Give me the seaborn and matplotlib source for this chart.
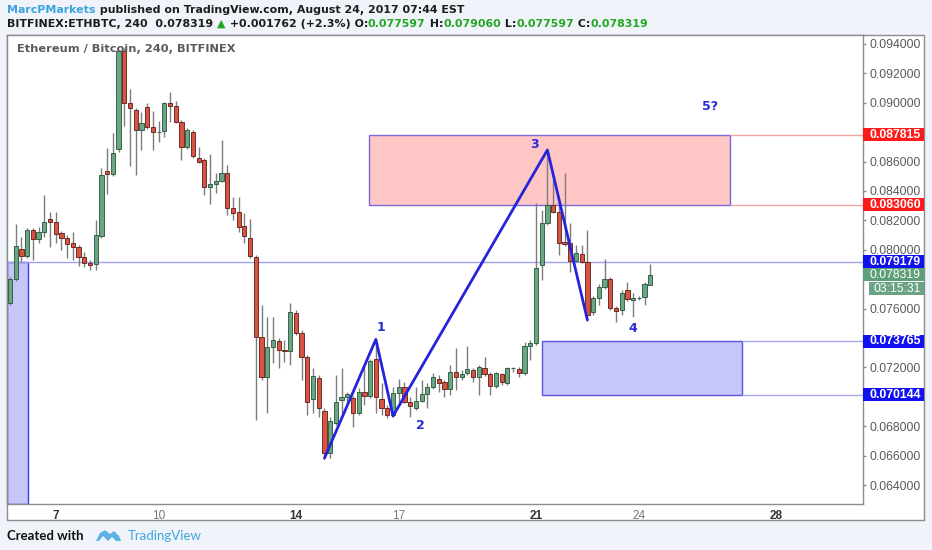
import numpy as np
import pandas as pd
import seaborn as sns
import matplotlib.pyplot as plt
import matplotlib.transforms as mtransforms
from matplotlib.patches import Rectangle, Polygon

# 4h candles, index 8 opens Aug 7 00:00
opens = [0.07640, 0.07799, 0.08003, 0.07958, 0.08135, 0.08073, 0.08123, 0.08207, 0.08191, 0.08112,
         0.08078, 0.08044, 0.08021, 0.07953, 0.07908, 0.07901, 0.08096, 0.08536, 0.08514, 0.08684,
         0.09354, 0.09001, 0.08951, 0.08815, 0.08973, 0.08833, 0.08799, 0.08810, 0.09001, 0.08978,
         0.08871, 0.08697, 0.08803, 0.08622, 0.08611, 0.08429, 0.08448, 0.08470, 0.08524, 0.08282,
         0.08259, 0.08162, 0.08078, 0.07953, 0.07409, 0.07133, 0.07337, 0.07380, 0.07318, 0.07313,
         0.07572, 0.07436, 0.07269, 0.06983, 0.07126, 0.06905, 0.06616, 0.06824, 0.06978, 0.06997,
         0.06990, 0.06888, 0.07030, 0.07005, 0.07255, 0.06983, 0.06926, 0.06876, 0.07024, 0.07064,
         0.06967, 0.06922, 0.06973, 0.07019, 0.07069, 0.07119, 0.07103, 0.07051, 0.07171, 0.07133,
         0.07160, 0.07182, 0.07133, 0.07194, 0.07155, 0.07073, 0.07153, 0.07092, 0.07194, 0.07187,
         0.07160, 0.07346, 0.07364, 0.07897, 0.08184, 0.08305, 0.08259, 0.08055, 0.08048, 0.07926,
         0.07971, 0.07919, 0.07579, 0.07670, 0.07749, 0.07799, 0.07602, 0.07590, 0.07727, 0.07658,
         0.07670, 0.07681, 0.077597]
highs = [0.07815, 0.08175, 0.08089, 0.08148, 0.08148, 0.08157, 0.08373, 0.08259, 0.08259, 0.08128,
         0.08101, 0.08123, 0.08033, 0.07987, 0.07931, 0.08203, 0.08554, 0.08690, 0.08793, 0.09359,
         0.09373, 0.09092, 0.08965, 0.08939, 0.08997, 0.08944, 0.08878, 0.09008, 0.09076, 0.09014,
         0.08883, 0.08829, 0.08815, 0.08697, 0.08624, 0.08652, 0.08520, 0.08747, 0.08577, 0.08361,
         0.08361, 0.08250, 0.08210, 0.07965, 0.07624, 0.07545, 0.07545, 0.07400, 0.07386, 0.07636,
         0.07590, 0.07454, 0.07284, 0.07194, 0.07148, 0.06924, 0.06865, 0.07148, 0.07194, 0.07035,
         0.07005, 0.07060, 0.07205, 0.07257, 0.07391, 0.07092, 0.06944, 0.07069, 0.07119, 0.07103,
         0.07001, 0.07069, 0.07114, 0.07092, 0.07160, 0.07148, 0.07114, 0.07216, 0.07330, 0.07182,
         0.07346, 0.07196, 0.07216, 0.07269, 0.07169, 0.07171, 0.07164, 0.07205, 0.07205, 0.07201,
         0.07375, 0.07386, 0.08316, 0.08271, 0.08670, 0.08475, 0.08327, 0.08520, 0.08180, 0.08033,
         0.08033, 0.08135, 0.07686, 0.07767, 0.07935, 0.07815, 0.07618, 0.07727, 0.07783, 0.07706,
         0.07686, 0.07781, 0.079060]
lows = [0.07624, 0.07788, 0.07917, 0.07944, 0.07931, 0.08046, 0.08089, 0.08021, 0.08046, 0.07999,
        0.07942, 0.07931, 0.07890, 0.07885, 0.07862, 0.07862, 0.08078, 0.08380, 0.08502, 0.08665,
        0.08842, 0.08570, 0.08509, 0.08679, 0.08822, 0.08679, 0.08735, 0.08769, 0.08869, 0.08863,
        0.08611, 0.08686, 0.08624, 0.08590, 0.08373, 0.08312, 0.08384, 0.08461, 0.08237, 0.08203,
        0.08123, 0.08046, 0.07944, 0.06842, 0.07114, 0.06888, 0.07230, 0.07196, 0.07237, 0.07216,
        0.07420, 0.07114, 0.06876, 0.06890, 0.06865, 0.06597, 0.06582, 0.06808, 0.06876, 0.06958,
        0.06797, 0.06876, 0.06944, 0.06992, 0.06890, 0.06876, 0.06854, 0.06862, 0.06958, 0.06958,
        0.06865, 0.06910, 0.06964, 0.06922, 0.07053, 0.07035, 0.07001, 0.07012, 0.07046, 0.07114,
        0.07148, 0.07103, 0.07012, 0.07141, 0.07012, 0.07060, 0.07080, 0.07080, 0.07171, 0.07137,
        0.07148, 0.07250, 0.07352, 0.07795, 0.08169, 0.08250, 0.07965, 0.08026, 0.07851, 0.07917,
        0.07910, 0.07522, 0.07556, 0.07624, 0.07733, 0.07590, 0.07511, 0.07556, 0.07652, 0.07545,
        0.07658, 0.07624, 0.077597]
closes = [0.07799, 0.08026, 0.07958, 0.08135, 0.08071, 0.08123, 0.08191, 0.08187, 0.08107, 0.08078,
          0.08039, 0.08017, 0.07953, 0.07908, 0.07899, 0.08101, 0.08509, 0.08514, 0.08661, 0.09354,
          0.08997, 0.08963, 0.08815, 0.08865, 0.08833, 0.08799, 0.08803, 0.08997, 0.08978, 0.08871,
          0.08701, 0.08815, 0.08638, 0.08599, 0.08429, 0.08448, 0.08470, 0.08524, 0.08282, 0.08252,
          0.08157, 0.08094, 0.07960, 0.07409, 0.07137, 0.07337, 0.07386, 0.07318, 0.07315, 0.07579,
          0.07436, 0.07269, 0.06967, 0.07141, 0.06922, 0.06616, 0.06835, 0.06967, 0.07001, 0.07017,
          0.06888, 0.07030, 0.07007, 0.07246, 0.06997, 0.06922, 0.06876, 0.07024, 0.07069, 0.06967,
          0.06937, 0.06973, 0.07019, 0.07069, 0.07133, 0.07092, 0.07051, 0.07171, 0.07133, 0.07153,
          0.07187, 0.07133, 0.07205, 0.07155, 0.07073, 0.07160, 0.07103, 0.07194, 0.07196, 0.07160,
          0.07346, 0.07364, 0.07874, 0.08184, 0.08305, 0.08259, 0.08044, 0.08039, 0.07926, 0.07980,
          0.07919, 0.07556, 0.07670, 0.07749, 0.07799, 0.07602, 0.07586, 0.07708, 0.07663, 0.07670,
          0.07670, 0.07767, 0.078319]

day_numbers = [7, 10, 14, 17, 21, 24, 28]
day_labels = ["7", "10", "14", "17", "21", "24", "28"]
bold_days = ["7", "14", "21", "28"]

price_ticks = [0.064, 0.066, 0.068, 0.072, 0.076, 0.080, 0.082, 0.084, 0.086, 0.090, 0.092, 0.094]

# elliott wave drawing
wave_idx = [55, 64, 67, 94, 101]
wave_price = [0.06582, 0.07391, 0.06869, 0.08679, 0.07522]
wave_labels = ["1", "2", "3", "4", "5?"]
wave_label_idx = [64.8, 71.8, 91.8, 108.9, 122.4]
wave_label_price = [0.07473, 0.06803, 0.08713, 0.07466, 0.08978]

supply_zone = (62.8, 125.9, 0.083060, 0.087815)
demand_zone = (93.0, 128.0, 0.070144, 0.073765)
left_zone_right = 3.1
pivot_level = 0.079179

level_tags = [0.087815, 0.083060, 0.079179, 0.073765, 0.070144]
level_tag_colors = ["#ff1a1a", "#ff1a1a", "#1010f0", "#1010f0", "#1010f0"]
last_price = 0.078319
countdown = "03:15:31"

W, H = 932, 550
sns.set_style("white")
plt.rcParams['font.family'] = ['DejaVu Sans']
scale_font = "Liberation Sans"

fig = plt.figure(figsize=(W / 100, H / 100), dpi=100)
fig.patch.set_facecolor("#f0f3fa")

# outer chart frame (plot + price scale + date scale)
frame = Rectangle((7 / W, 1 - 520 / H), 917 / W, 485 / H, transform=fig.transFigure,
                  facecolor="white", edgecolor="#8c8c8c", lw=1, zorder=-5)
fig.add_artist(frame)

ax = fig.add_axes([7 / W, 1 - 504 / H, 856 / W, 469 / H])
ax.set_zorder(3)
ax.set_facecolor("white")
for s in ax.spines.values():
    s.set_color("#8c8c8c")
    s.set_linewidth(1)

df = pd.DataFrame({"o": opens, "h": highs, "l": lows, "c": closes})
df["i"] = np.arange(len(df))
up = df["c"] >= df["o"]
body_bottom = df[["o", "c"]].min(axis=1)
body_h = (df["c"] - df["o"]).abs().clip(lower=0.00003)

xmin, xmax = -0.52, 149.2
ymin, ymax = 0.06271, 0.09461

# zones and levels
ax.add_patch(Rectangle((xmin, ymin), left_zone_right - xmin, pivot_level - ymin,
                       facecolor="#c6c6fb", edgecolor="#3a3ae0", lw=1, zorder=1))
x0, x1, y0, y1 = supply_zone
ax.add_patch(Rectangle((x0, y0), x1 - x0, y1 - y0, facecolor="#ffc6c6",
                       edgecolor="#7a6ad8", lw=1, zorder=1))
ax.hlines([y0, y1], x1, xmax, color="#f5a3a3", lw=1, zorder=1)
x0, x1, y0, y1 = demand_zone
ax.add_patch(Rectangle((x0, y0), x1 - x0, y1 - y0, facecolor="#c6c6fd",
                       edgecolor="#5555e0", lw=1, zorder=1))
ax.hlines([y0, y1], x1, xmax, color="#a8a8f2", lw=1, zorder=1)
ax.axhline(pivot_level, color="#a0a0f0", lw=1, zorder=1)

# candles
ax.vlines(df["i"], df["l"], df["h"], color="#7d7d7d", lw=1, zorder=2)
ax.bar(df["i"], body_h, bottom=body_bottom, width=0.74,
       color=np.where(up, "#6ba583", "#d75442"),
       edgecolor=np.where(up, "#225437", "#5b1a13"), lw=0.6, zorder=3)

sns.lineplot(x=wave_idx, y=wave_price, sort=False, color="#2424dc", lw=2, ax=ax, zorder=5)
for lab, xi, yi in zip(wave_labels, wave_label_idx, wave_label_price):
    ax.text(xi, yi, lab, color="#2b2bd6", fontsize=9, fontweight="bold", ha="center", va="center", zorder=6)

ax.set_xlim(xmin, xmax)
ax.set_ylim(ymin, ymax)

# date scale
day_idx = [8 + 6 * (d - 7) for d in day_numbers]
ax.set_xticks(day_idx)
ax.set_xticklabels(day_labels, family=scale_font)
ax.tick_params(axis="x", direction="out", length=3, width=1, color="#8c8c8c", pad=1.5, labelsize=8.5)
for t in ax.get_xticklabels():
    if t.get_text() in bold_days:
        t.set_fontweight("bold")
        t.set_color("#333333")
    else:
        t.set_color("#777777")

# price scale
ax.yaxis.tick_right()
ax.set_yticks(price_ticks)
ax.set_yticklabels([f"{v:.6f}" for v in price_ticks], family=scale_font)
ax.tick_params(axis="y", direction="out", length=2.2, width=1, color="#8c8c8c", pad=2.8,
               labelsize=8.8, labelcolor="#5a5a5a")
ax.set_xlabel("")
ax.set_ylabel("")

blend = mtransforms.blended_transform_factory(ax.transAxes, ax.transData)
box_w = 61 / 856
box_h = 13 / 14700
for v, c in zip(level_tags, level_tag_colors):
    ax.add_patch(Rectangle((1.0, v - box_h / 2), box_w, box_h, transform=blend, facecolor=c,
                           edgecolor="none", clip_on=False, zorder=7))
    ax.text(1.0 + 7 / 856, v, f"{v:.6f}", transform=blend, color="white", fontsize=8.8,
            fontweight="bold", family=scale_font, va="center", ha="left", clip_on=False, zorder=8)
ax.add_patch(Rectangle((1.0, last_price - box_h / 2), box_w, box_h, transform=blend,
                       facecolor="#5e9e78", edgecolor="none", clip_on=False, zorder=7))
ax.text(1.0 + 7 / 856, last_price, f"{last_price:.6f}", transform=blend, color="white",
        fontsize=8.8, family=scale_font, va="center", ha="left", clip_on=False, zorder=8)
cd_y = last_price - 14 / 14700
ax.add_patch(Rectangle((1.0 + 6 / 856, cd_y - box_h / 2), box_w - 6 / 856, box_h, transform=blend,
                       facecolor="#6aa383", edgecolor="none", clip_on=False, zorder=7))
ax.text(1.0 + 10 / 856, cd_y, countdown, transform=blend, color="white",
        fontsize=8.8, family=scale_font, va="center", ha="left", clip_on=False, zorder=8)

ax.text(10 / 856, 1 - 14 / 469, "Ethereum / Bitcoin, 240, BITFINEX", transform=ax.transAxes,
        color="#5a5a5a", fontsize=8.2, fontweight="bold", va="center", ha="left", zorder=9)

# header text runs
renderer = fig.canvas.get_renderer()


def text_width(s, size, weight):
    a = fig.text(0, 0, "|" + s + "|", fontsize=size, fontweight=weight)
    b = fig.text(0, 0, "||", fontsize=size, fontweight=weight)
    w = a.get_window_extent(renderer).width - b.get_window_extent(renderer).width
    a.remove()
    b.remove()
    return w


def text_run(x_px, y_px, pieces, size, weight="bold"):
    x = x_px
    for s, col in pieces:
        fig.text(x / W, 1 - y_px / H, s, color=col, fontsize=size, fontweight=weight,
                 va="center", ha="left")
        x += text_width(s, size, weight)


blk = "#1c1c1c"
grn = "#21a821"
text_run(7, 10, [("MarcPMarkets", "#3aa4df"),
                 (" published on TradingView.com, August 24, 2017 07:44 EST", blk)], 7.9)
text_run(7, 24, [("BITFINEX:ETHBTC, 240  0.078319 ", blk), ("\u25b2", grn),
                 (" +0.001762 (+2.3%) O:", blk), ("0.077597", grn), (" H:", blk),
                 ("0.079060", grn), (" L:", blk), ("0.077597", grn), (" C:", blk),
                 ("0.078319", grn)], 7.9)

# footer
fig.text(7 / W, 1 - 536 / H, "Created with", color="#111111", fontsize=9.5, fontweight="bold",
         family="Lato", va="center", ha="left")
logo = [(96, 541), (100, 533), (105, 530), (110, 534), (114, 531), (119, 536), (121, 541),
        (116, 541), (112, 537), (108, 541), (103, 536), (99, 541)]
fig.add_artist(Polygon([(px / W, 1 - py / H) for px, py in logo], closed=True,
                       transform=fig.transFigure, facecolor="#5cb2e4", edgecolor="none"))
fig.text(128 / W, 1 - 536 / H, "TradingView", color="#3ea6dd", fontsize=9.5, family="Lato",
         va="center", ha="left")

fig.savefig("out.png", dpi=100, facecolor=fig.get_facecolor())
